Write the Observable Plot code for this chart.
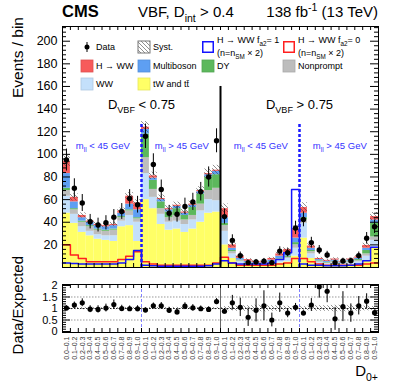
<!DOCTYPE html>
<html><head><meta charset="utf-8">
<script src="https://cdn.jsdelivr.net/npm/d3@7"></script>
<script src="https://cdn.jsdelivr.net/npm/@observablehq/plot@0.6"></script>
<style>
body{margin:0;background:#fff;}
#wrap{position:relative;width:395px;height:383px;overflow:hidden;background:#fff;}
#wrap svg{position:absolute;left:0;}
</style></head><body>
<svg width="0" height="0" style="position:absolute"><defs>
<pattern id="hatch" patternUnits="userSpaceOnUse" width="4" height="4"><path d="M-1,-1L5,5M3,-1L5,1M-1,3L1,5" stroke="#444" stroke-width="0.6"/></pattern>
</defs></svg>
<div id="wrap"></div>
<script>
// ---------------- data ----------------
const binLabels10 = ["0.0–0.1","0.1–0.2","0.2–0.3","0.3–0.4","0.4–0.5","0.5–0.6","0.6–0.7","0.7–0.8","0.8–0.9","0.9–1.0"];
const xLabels = [...binLabels10, ...binLabels10, ...binLabels10, ...binLabels10];
const regionLabels = ["D_{VBF} < 0.75", "D_{VBF} > 0.75"];
const mllLabels = ["m_{ll} < 45 GeV", "m_{ll} > 45 GeV", "m_{ll} < 45 GeV", "m_{ll} > 45 GeV"];

const seriesNames = ["tW and tt\u0304", "WW", "Nonprompt", "DY", "Multiboson", "H \u2192 WW"];
const seriesColors = ["#ffff66", "#c4e0fb", "#bdbdbd", "#5cb85c", "#5e9ff2", "#f75b5b"];

const tWtt = [48,39,31,28,25,24,23,36,37,23, 60,52,38,33,34,31,34,40,48,49, 20,8,3,2,1.5,1.5,2.5,4,5,10, 26,8,3,2,2.5,1.8,2.5,3,6,17];
const ww = [15,8,5,4,4,4,5,5,9,17, 23,10,9,7,7,7,8,10,12,10, 12,4,2,1.5,1,1,1.5,2.5,3,7, 13,4,1.5,1.3,1.5,1,1.5,2,4,7];
const nonprompt = [5,4,4,4,4,4,5,3,4,3, 14,7,5,4,5,4,4,6,8,11, 5,2,1,0.5,0.5,0.5,0.5,1,1,3, 3,2,1,0.7,1,0.7,1,1,2,3];
const dy = [2,1,1,1,1,1,1,1,1,1, 21,8,6,5,6,4,7,9,12,12, 2,1,0.5,0.5,0.3,0.3,0.5,0.5,1,2, 2,1,0.5,0.5,0.5,0.4,0.5,1,3,12];
const multiboson = [13,6,3,3,3,3,3,3,5,7, 4,2,2,2,2,2,2,2,2,3, 5,2,1.5,1,1,0.8,1.5,2,3,4, 4,2,1,1,1,0.8,1,1.2,2,3];
const hww = [11,4,2,1,1,1,1,2,7,6, 2,2,1,1,1,1,1,1,1,1, 8,3,2,1.5,1,0.9,1.5,2,3,8, 5,2,1,0.8,1,0.7,1,1.2,2.5,3];

const dataObs = [95,70,57,40.5,37.5,39.5,44.5,49.5,61,55.5, 116,91,69,48,47,54,58,67,80,112, 45,24,10.5,4.3,4.9,5.6,4.3,14.5,13,35, 42.5,22,15.5,11,4.3,5.8,6,10.5,25.8,36];
const dataErr = [9.7,8.4,7.5,6.4,6.1,6.3,6.7,7,7.8,7.4, 10.8,9.5,8.3,6.9,6.9,7.3,7.6,8.2,8.9,10.6, 6.7,4.9,3.2,2.1,2.2,2.4,2.1,3.8,3.6,5.9, 6.5,4.7,3.9,3.3,2.1,2.4,2.4,3.2,5.1,6];

const fa2One = [4,3.5,3,3,3,3,3,4,7,15, 2,1.5,1,1,1,1,1,1,1.5,3, 6,4,3,3,3,3,4,7,13,69, 3,2,2,1.5,1.5,1.5,2,3,6,18];
const fa2Zero = [20,11,8,5,5,5,5,7,10,14, 5,3,2,2,2,2,2,2,2,4, 9,4,2,2,2,2,2,3,4,8, 8,5,3,2,2,2,2,2,3,4];

const systFrac = [0.05,0.05,0.05,0.05,0.05,0.05,0.05,0.05,0.05,0.05, 0.04,0.04,0.05,0.05,0.05,0.05,0.05,0.05,0.05,0.05, 0.08,0.1,0.12,0.12,0.14,0.14,0.12,0.12,0.1,0.08, 0.08,0.1,0.12,0.12,0.14,0.14,0.12,0.12,0.1,0.08];

const ratioObs = [1.02,1.15,1.25,0.97,0.96,1.02,1.17,1.0,0.99,0.99, 0.93,1.12,1.12,0.92,0.85,1.1,1.03,0.99,0.96,1.3, 0.88,1.25,1.05,0.62,0.92,1.12,0.5,1.25,0.8,1.05, 0.8,1.15,1.95,1.75,0.55,1.08,0.8,1.12,1.32,0.82];
const ratioErr = [0.1,0.13,0.17,0.15,0.16,0.17,0.2,0.14,0.12,0.13, 0.09,0.12,0.14,0.13,0.13,0.15,0.14,0.12,0.11,0.13, 0.12,0.32,0.4,0.4,0.5,0.65,0.3,0.42,0.2,0.17, 0.1,0.28,0.5,0.5,0.5,0.65,0.4,0.4,0.32,0.12];

const mainYTicks = [20,40,60,80,100,120,140,160,180,200];
const ratioYTicks = [0,0.5,1,1.5,2];

// ---------------- layout ----------------
const FONT = '"Liberation Sans", Arial, Helvetica, sans-serif';
const W = 395, mL = 62, mR = 17;
const nBins = xLabels.length;
const pxPerBin = (W - mL - mR) / nBins;
const mainH = 270, mainTop = 26, mainBot = 3;
const mainYMax = 213;
const pxPerY = (mainH - mainTop - mainBot) / mainYMax;
const ratioH = 113, ratioTop = 14, ratioBot = 51;
const ratioDom = [-0.043, 2.043];
const pxPerR = (ratioH - ratioTop - ratioBot) / (ratioDom[1] - ratioDom[0]);

// ---------------- derived rows ----------------
const seriesValues = [tWtt, ww, nonprompt, dy, multiboson, hww];
const stackRows = [];
const totals = [];
for (let i = 0; i < nBins; i++) {
  let acc = 0;
  seriesValues.forEach((arr, s) => {
    stackRows.push({x1: i, x2: i + 1, y1: acc, y2: acc + arr[i], series: seriesNames[s]});
    acc += arr[i];
  });
  totals.push(acc);
}
const systRows = totals.map((t, i) => ({x1: i, x2: i + 1, y1: t * (1 - systFrac[i]), y2: t * (1 + systFrac[i])}));
const ratioSystRows = systFrac.map((s, i) => ({x1: i, x2: i + 1, y1: 1 - s, y2: 1 + s}));
const dataRows = dataObs.map((v, i) => ({xc: i + 0.5, v, lo: v - dataErr[i], hi: v + dataErr[i]}));
const ratioRows = ratioObs.map((v, i) => ({xc: i + 0.5, v, lo: v - ratioErr[i], hi: v + ratioErr[i], label: xLabels[i]}));
const stepPoints = arr => [...arr.map((v, i) => ({x: i, y: v})), {x: arr.length, y: arr[arr.length - 1]}];
const groupSize = 10;
const regionRows = regionLabels.map((t, k) => ({x: (k + 0.5) * 2 * groupSize, text: t}));
const mllRows = mllLabels.map((t, k) => ({x: (k + 0.5) * groupSize + 0.1, text: t}));
const edges = d3.range(1, nBins);

function yTickMarks(major, minor, lenMaj, lenMin, pxX) {
  const a = lenMaj / pxX, b = lenMin / pxX;
  return [
    Plot.ruleY(major, {x1: 0, x2: a, stroke: "black", strokeWidth: 1}),
    Plot.ruleY(minor, {x1: 0, x2: b, stroke: "black", strokeWidth: 1}),
    Plot.ruleY(major, {x1: nBins - a, x2: nBins, stroke: "black", strokeWidth: 1}),
    Plot.ruleY(minor, {x1: nBins - b, x2: nBins, stroke: "black", strokeWidth: 1})
  ];
}
function xTickMarks(dom, len, pxY) {
  const a = len / pxY;
  return [
    Plot.ruleX(edges, {y1: dom[0], y2: dom[0] + a, stroke: "black", strokeWidth: 1}),
    Plot.ruleX(edges, {y1: dom[1] - a, y2: dom[1], stroke: "black", strokeWidth: 1})
  ];
}

// ---------------- main panel ----------------
const mainMinor = d3.range(4, mainYMax, 4).filter(v => v % 20 !== 0);
const main = Plot.plot({
  width: W, height: mainH,
  marginLeft: mL, marginRight: mR, marginTop: mainTop, marginBottom: mainBot,
  x: {domain: [0, nBins], axis: null},
  y: {domain: [0, mainYMax], axis: null},
  color: {domain: seriesNames, range: seriesColors},
  style: {fontFamily: FONT, background: "transparent", overflow: "visible"},
  marks: [
    Plot.rect(stackRows, {x1: "x1", x2: "x2", y1: "y1", y2: "y2", fill: "series"}),
    Plot.rect(systRows, {x1: "x1", x2: "x2", y1: "y1", y2: "y2", fill: "url(#hatch)"}),
    Plot.line(stepPoints(fa2Zero), {x: "x", y: "y", curve: "step-after", stroke: "#ff1f1f", strokeWidth: 1.5}),
    Plot.line(stepPoints(fa2One), {x: "x", y: "y", curve: "step-after", stroke: "#1414ff", strokeWidth: 1.5}),
    Plot.ruleX([2 * groupSize], {y1: 0, y2: 160, stroke: "black", strokeWidth: 2}),
    Plot.ruleX([groupSize, 3 * groupSize], {y1: 0, y2: 127, stroke: "#1a1aff", strokeWidth: 2.5, strokeDasharray: "3,2"}),
    Plot.ruleX(dataRows, {x: "xc", y1: "lo", y2: "hi", stroke: "black", strokeWidth: 1}),
    Plot.dot(dataRows, {x: "xc", y: "v", r: 2.7, fill: "black"}),
    Plot.text(regionRows, {x: "x", y: 143.5, text: "text", fontSize: 13, fill: "black"}),
    Plot.text(mllRows, {x: "x", y: 107, text: "text", fontSize: 9.5, fill: "#3333ff"}),
    ...yTickMarks(mainYTicks.concat([0]), mainMinor, 8, 4, pxPerBin),
    ...xTickMarks([0, mainYMax], 4, pxPerY),
    Plot.frame({stroke: "black", strokeWidth: 1}),
    Plot.text(mainYTicks, {frameAnchor: "left", y: d => d, text: d => String(d), textAnchor: "end", dx: -5, fontSize: 12.5, fill: "black"})
  ]
});

// ---------------- ratio panel ----------------
const ratioMinor = d3.range(0.1, 2.05, 0.1).map(v => +v.toFixed(2)).filter(v => Math.abs(v * 2 - Math.round(v * 2)) > 1e-6);
const ratio = Plot.plot({
  width: W, height: ratioH,
  marginLeft: mL, marginRight: mR, marginTop: ratioTop, marginBottom: ratioBot,
  x: {domain: [0, nBins], axis: null},
  y: {domain: ratioDom, axis: null},
  style: {fontFamily: FONT, background: "transparent", overflow: "visible"},
  marks: [
    Plot.rect(ratioSystRows, {x1: "x1", x2: "x2", y1: "y1", y2: "y2", fill: "url(#hatch)"}),
    Plot.ruleY([0.5, 1.5], {stroke: "#999", strokeDasharray: "1.5,1.5"}),
    Plot.ruleY([1], {stroke: "#222", strokeDasharray: "1.5,1.5"}),
    Plot.ruleX([2 * groupSize], {stroke: "#666", strokeWidth: 1}),
    Plot.ruleX([groupSize, 3 * groupSize], {stroke: "#8080ff", strokeWidth: 1, strokeDasharray: "3,2"}),
    Plot.ruleX(ratioRows, {x: "xc", y1: "lo", y2: "hi", stroke: "black", strokeWidth: 1, clip: true}),
    Plot.dot(ratioRows, {x: "xc", y: "v", r: 2.6, fill: "black"}),
    ...yTickMarks(ratioYTicks, ratioMinor, 8, 4, pxPerBin),
    ...xTickMarks(ratioDom, 4, pxPerR),
    Plot.frame({stroke: "black", strokeWidth: 1}),
    Plot.text(ratioYTicks, {frameAnchor: "left", y: d => d, text: d => String(d), textAnchor: "end", dx: -5, fontSize: 11, fill: "black"}),
    Plot.text(ratioRows, {x: "xc", frameAnchor: "bottom", text: "label", rotate: -90, textAnchor: "end", lineAnchor: "middle", dy: 4, fontSize: 7, fill: "#333"})
  ]
});

// ---------------- assemble ----------------
const wrap = document.getElementById("wrap");
main.style.top = "0px";
ratio.style.top = mainH + "px";
wrap.appendChild(main);
wrap.appendChild(ratio);

const SVGNS = "http://www.w3.org/2000/svg";
function fillRich(node, str, fs) {
  node.textContent = "";
  const re = /([_^])\{([^}]*)\}/g;
  let last = 0, m, cur = 0;
  const add = (s, kind) => {
    const ts = document.createElementNS(SVGNS, "tspan");
    ts.textContent = s;
    let off = 0;
    if (kind === "_") { off = 0.3 * fs; ts.setAttribute("font-size", (0.7 * fs) + "px"); }
    else if (kind === "^") { off = -0.42 * fs; ts.setAttribute("font-size", (0.7 * fs) + "px"); }
    if (off - cur) ts.setAttribute("dy", off - cur);
    cur = off;
    node.appendChild(ts);
  };
  while ((m = re.exec(str))) {
    if (m.index > last) add(str.slice(last, m.index), "");
    add(m[2], m[1]);
    last = re.lastIndex;
  }
  if (last < str.length) add(str.slice(last), "");
}
[main, ratio].forEach(svg => {
  svg.querySelectorAll("text").forEach(t => {
    const s = t.textContent;
    if (/[_^]\{/.test(s)) {
      const holder = t.closest("[font-size]");
      const fs = holder ? parseFloat(holder.getAttribute("font-size")) : parseFloat(getComputedStyle(t).fontSize);
      fillRich(t, s, fs);
    }
  });
});

// overlay: titles + legend
const ov = d3.select(wrap).append("svg").attr("width", W).attr("height", 383)
  .style("top", "0px").style("font-family", FONT).style("pointer-events", "none");
function txt(x, y, str, fs, opt = {}) {
  const t = ov.append("text").attr("x", x).attr("y", y).attr("font-size", fs).attr("fill", opt.fill || "black");
  if (opt.anchor) t.attr("text-anchor", opt.anchor);
  if (opt.weight) t.attr("font-weight", opt.weight);
  if (opt.rotate) t.attr("transform", `rotate(${opt.rotate},${x},${y})`);
  fillRich(t.node(), str, fs);
  return t;
}
txt(62, 17, "CMS", 16.5, {weight: "bold"});
txt(138, 17, "VBF, D_{int} > 0.4", 15);
txt(378, 17, "138 fb^{-1} (13 TeV)", 15, {anchor: "end"});
txt(23, 17, "Events / bin", 15.5, {anchor: "end", rotate: -90});
txt(23, 256, "Data/Expected", 15, {anchor: "end", rotate: -90});
txt(378, 376, "D_{0+}", 15, {anchor: "end"});

// legend
const legColX = [81, 138, 202, 283];
const legRowY = [47, 66, 84];
const legendItems = [
  {label: "Data", kind: "data", col: 0, row: 0},
  {label: "Syst.", kind: "hatch", col: 1, row: 0},
  {label: "H \u2192 WW f_{a2}= 1", label2: "(n=n_{SM} \u00d7 2)", kind: "outline", color: "#1414ff", col: 2, row: 0},
  {label: "H \u2192 WW f_{a2}= 0", label2: "(n=n_{SM} \u00d7 2)", kind: "outline", color: "#ff1f1f", col: 3, row: 0},
  {label: seriesNames[5], kind: "fill", color: seriesColors[5], col: 0, row: 1},
  {label: seriesNames[4], kind: "fill", color: seriesColors[4], col: 1, row: 1},
  {label: seriesNames[3], kind: "fill", color: seriesColors[3], col: 2, row: 1},
  {label: seriesNames[2], kind: "fill", color: seriesColors[2], col: 3, row: 1},
  {label: seriesNames[1], kind: "fill", color: seriesColors[1], col: 0, row: 2},
  {label: seriesNames[0], kind: "fill", color: seriesColors[0], col: 1, row: 2}
];
const LF = 9, SW = 12;
legendItems.forEach(it => {
  const x = legColX[it.col], cy = legRowY[it.row];
  if (it.kind === "data") {
    ov.append("line").attr("x1", x + SW / 2).attr("x2", x + SW / 2).attr("y1", cy - 5).attr("y2", cy + 5).attr("stroke", "black");
    ov.append("circle").attr("cx", x + SW / 2).attr("cy", cy).attr("r", 2.5).attr("fill", "black");
  } else if (it.kind === "hatch") {
    ov.append("rect").attr("x", x).attr("y", cy - SW / 2).attr("width", SW).attr("height", SW).attr("fill", "url(#hatch)").attr("stroke", "#777").attr("stroke-width", 1);
  } else if (it.kind === "outline") {
    ov.append("rect").attr("x", x + 0.75).attr("y", cy - SW / 2 + 0.75).attr("width", SW - 1.5).attr("height", SW - 1.5).attr("fill", "white").attr("stroke", it.color).attr("stroke-width", 1.5);
  } else {
    ov.append("rect").attr("x", x).attr("y", cy - SW / 2).attr("width", SW).attr("height", SW).attr("fill", it.color).attr("stroke", d3.color(it.color).darker(0.3)).attr("stroke-width", 0.8);
  }
  if (it.label2) {
    txt(x + SW + 3, cy - 7 + 0.35 * LF, it.label, LF);
    txt(x + SW + 3, cy + 6 + 0.35 * LF, it.label2, LF);
  } else {
    txt(x + SW + 3, cy + 0.35 * LF, it.label, LF);
  }
});
</script>
</body></html>
